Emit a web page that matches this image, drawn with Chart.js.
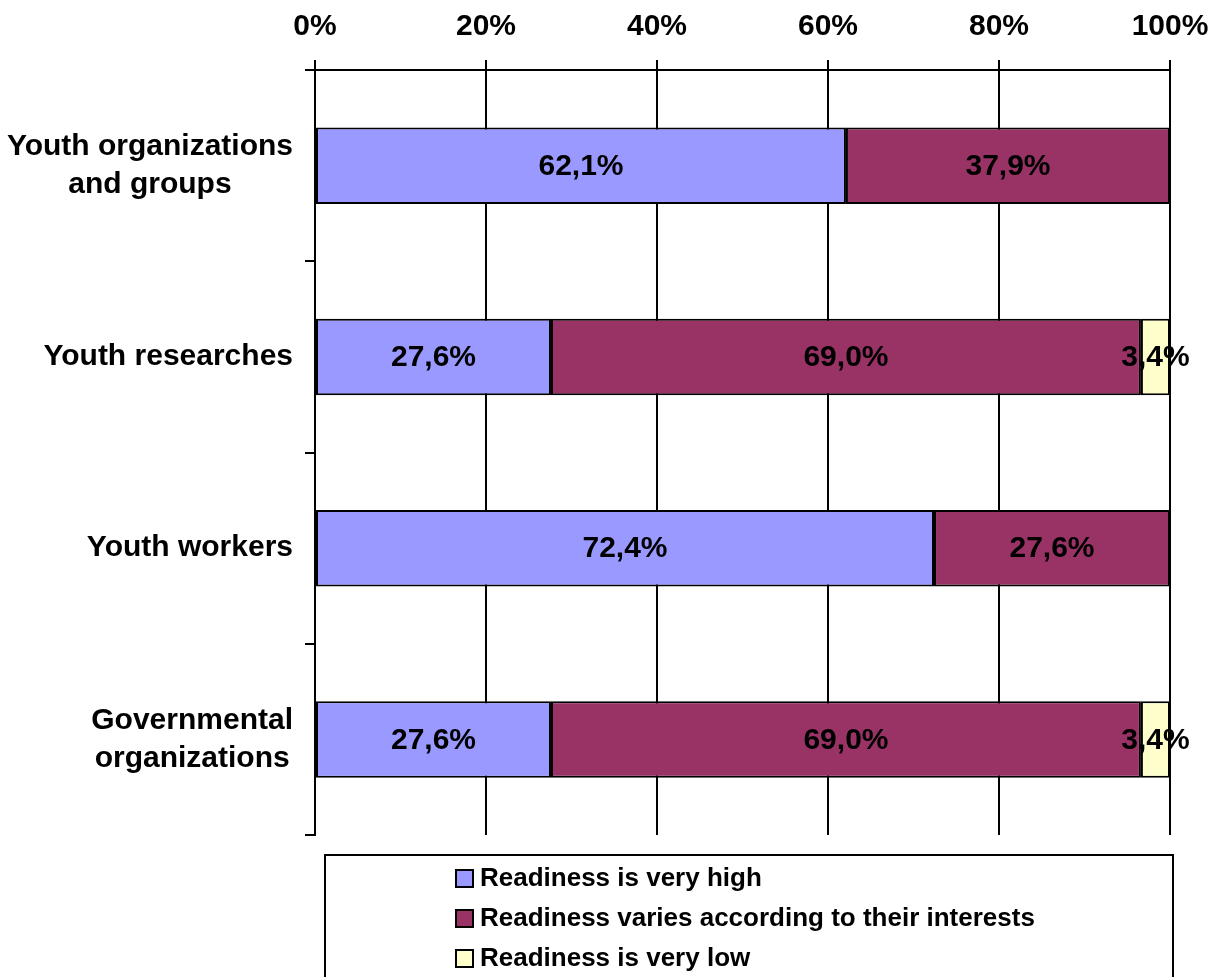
<!DOCTYPE html>
<html>
<head>
<meta charset="utf-8">
<title>Readiness by group</title>
<script src="https://cdn.jsdelivr.net/npm/chart.js@4/dist/chart.umd.min.js"></script>
<style>
  html, body { margin: 0; padding: 0; background: #fff; }
  #wrap { width: 1218px; height: 977px; position: relative; }
</style>
</head>
<body>
<div id="wrap"><canvas id="c" width="1218" height="977"></canvas></div>
<script>
// Groups (multi-line labels are arrays of lines)
const categories = [
  ['Youth organizations', 'and groups'],
  ['Youth researches'],
  ['Youth workers'],
  ['Governmental', 'organizations']
];
// Share of answers per group, percent
const veryHigh = [62.1, 27.6, 72.4, 27.6];
const variesByInterest = [37.9, 69.0, 27.6, 69.0];
const veryLow = [0, 3.4, 0, 3.4];
const seriesNames = [
  'Readiness is very high',
  'Readiness varies according to their interests',
  'Readiness is very low'
];
const xTicks = [0, 20, 40, 60, 80, 100];

const FONT = '"Liberation Sans", Arial, sans-serif';

// Percent label inside every segment, comma as decimal separator
const segmentLabels = {
  id: 'segmentLabels',
  afterDatasetsDraw(chart) {
    const ctx = chart.ctx;
    ctx.save();
    ctx.font = 'bold 30px ' + FONT;
    ctx.fillStyle = '#000';
    ctx.textAlign = 'center';
    ctx.textBaseline = 'middle';
    chart.data.datasets.forEach((ds, di) => {
      const meta = chart.getDatasetMeta(di);
      meta.data.forEach((el, i) => {
        const v = ds.data[i];
        if (!v) return;
        const p = el.getProps(['x', 'y', 'base'], true);
        ctx.fillText(v.toFixed(1).replace('.', ',') + '%', (p.x + p.base) / 2, p.y + 1);
      });
    });
    ctx.restore();
  }
};

// Category labels: block right-aligned to the axis, lines centred within the block
const categoryLabels = {
  id: 'categoryLabels',
  afterDraw(chart) {
    const ctx = chart.ctx;
    const y = chart.scales.y;
    ctx.save();
    ctx.font = 'bold 30px ' + FONT;
    ctx.fillStyle = '#000';
    ctx.textAlign = 'center';
    ctx.textBaseline = 'middle';
    const right = y.right - 22;
    const lh = 38;
    categories.forEach((lines, i) => {
      const widest = Math.max(...lines.map(l => ctx.measureText(l).width));
      const cx = right - widest / 2;
      const cy = y.getPixelForValue(i);
      lines.forEach((l, k) => {
        ctx.fillText(l, cx, cy + (k - (lines.length - 1) / 2) * lh);
      });
    });
    ctx.restore();
  }
};

// Framed legend under the plot
const boxLegend = {
  id: 'boxLegend',
  afterDraw(chart) {
    const ctx = chart.ctx;
    ctx.save();
    ctx.lineWidth = 2;
    ctx.strokeStyle = '#000';
    ctx.strokeRect(325, 855, 848, 140);
    ctx.font = 'bold 26px ' + FONT;
    ctx.textAlign = 'left';
    ctx.textBaseline = 'middle';
    chart.data.datasets.forEach((ds, i) => {
      const cy = 878 + i * 40;
      ctx.fillStyle = ds.backgroundColor;
      ctx.fillRect(456, cy - 8, 17, 17);
      ctx.strokeRect(456, cy - 8, 17, 17);
      ctx.fillStyle = '#000';
      ctx.fillText(ds.label, 480, cy + 1);
    });
    ctx.restore();
  }
};

const colors = ['#9999FF', '#993366', '#FFFFCC'];
const values = [veryHigh, variesByInterest, veryLow];

new Chart(document.getElementById('c'), {
  type: 'bar',
  data: {
    labels: categories.map(l => l.join(' ')),
    datasets: values.map((d, i) => ({
      label: seriesNames[i],
      data: d,
      backgroundColor: colors[i],
      borderColor: '#000',
      borderWidth: 2,
      borderSkipped: false,
      categoryPercentage: 1,
      barPercentage: 0.4
    }))
  },
  options: {
    indexAxis: 'y',
    responsive: false,
    animation: false,
    devicePixelRatio: 1,
    layout: { padding: { left: 0, right: 48, top: 0, bottom: 142 } },
    plugins: { legend: { display: false }, tooltip: { enabled: false } },
    scales: {
      x: {
        position: 'top',
        stacked: true,
        min: 0,
        max: 100,
        afterBuildTicks(s) { s.ticks = xTicks.map(v => ({ value: v })); },
        afterFit(s) { s.height = 70; s.paddingLeft = 0; s.paddingRight = 0; },
        ticks: {
          callback: v => v + '%',
          color: '#000',
          padding: 15,
          font: { family: FONT, size: 30, weight: 'bold' }
        },
        grid: { color: '#000', lineWidth: 2, tickLength: 10, drawTicks: true },
        border: { display: true, color: '#000', width: 2 }
      },
      y: {
        stacked: true,
        afterFit(s) { s.width = 315; },
        ticks: { display: false },
        grid: {
          offset: true,
          drawOnChartArea: false,
          drawTicks: true,
          tickLength: 10,
          color: '#000',
          lineWidth: 2
        },
        border: { display: true, color: '#000', width: 2 }
      }
    }
  },
  plugins: [segmentLabels, categoryLabels, boxLegend]
});
</script>
</body>
</html>
